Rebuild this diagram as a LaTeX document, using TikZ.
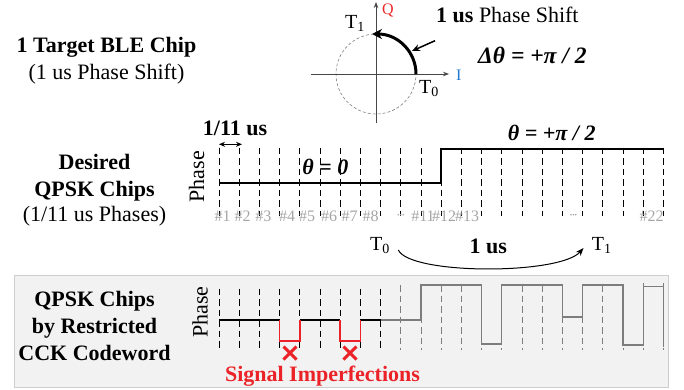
\documentclass[tikz,border=0pt]{standalone}
\usepackage{fontspec}
\setmainfont{Liberation Serif}
\usetikzlibrary{arrows.meta}
\definecolor{numgray}{RGB}{165,165,165}
\definecolor{qred}{RGB}{235,40,40}
\definecolor{iblue}{RGB}{30,120,210}
\definecolor{boxfill}{RGB}{242,242,242}
\definecolor{boxline}{RGB}{205,205,205}
\definecolor{siggray}{RGB}{125,125,125}
\definecolor{imred}{RGB}{235,35,40}
\definecolor{axisgray}{RGB}{70,70,70}
\begin{document}
\begin{tikzpicture}[x=1pt,y=-1pt,
  lab/.style={font=\fontsize{22}{26}\selectfont, inner sep=0pt, anchor=base},
  blab/.style={lab, font=\fontsize{22}{26}\selectfont\bfseries},
  mlab/.style={lab, font=\fontsize{22}{26}\selectfont\bfseries\itshape},
  tlab/.style={font=\fontsize{20}{24}\selectfont, inner sep=0pt, anchor=base west},
  hlab/.style={font=\fontsize{16}{18}\selectfont, text=numgray, inner sep=0pt, anchor=base},
  gridline/.style={dash pattern=on 6.5pt off 4pt, line width=0.8pt},
  axisline/.style={line width=0.9pt, draw=axisgray, -{Stealth[length=6pt,width=4.5pt]}},
  wave/.style={line width=2pt, line join=miter},
  bwave/.style={line width=1.5pt},
  rwave/.style={line width=1.5pt, draw=imred},
  gwave/.style={line width=1.2pt, draw=siggray},
  xmark/.style={line width=3pt, draw=imred},
]
\useasboundingbox (0,0) rectangle (684,389);

% ---------- top section ----------
\node[blab] (title1) at (106.5,52) {1 Target BLE Chip};
\node[lab] (title2) at (106.5,79) {(1 us Phase Shift)};

\coordinate (o) at (376,74);
\coordinate (ileft) at (310.7,74);
\coordinate (iright) at (449,74);
\coordinate (qbot) at (376,123);
\coordinate (qtop) at (376,2);
\draw[dashed, draw=gray, line width=0.6pt, dash pattern=on 3pt off 2pt] (o) circle[radius=40pt];
\draw[axisline] (ileft) -- (iright);
\draw[axisline] (qbot) -- (qtop);
\node[font=\fontsize{16}{18}\selectfont, text=qred, inner sep=0pt, anchor=base west] (qlab) at (382,14) {Q};
\node[font=\fontsize{16}{18}\selectfont, text=iblue, inner sep=0pt, anchor=base west] (ilab) at (456,80) {I};
\node[tlab] (t1top) at (345,28.3) {T\textsubscript{1}};
\node[tlab] (t0top) at (419,93.3) {T\textsubscript{0}};
\coordinate (arcs) at (416,74);
\coordinate (arce) at (372,34);
\draw[line width=3pt, -{Stealth[length=10pt,width=10pt]}] (arcs) .. controls (416,51.9) and (398.1,34) .. (arce);
\coordinate (pa) at (435,40.7);
\coordinate (pb) at (412,51);
\draw[line width=1.5pt, -{Stealth[length=8pt,width=7pt]}] (pa) -- (pb);
\node[lab, anchor=base west] (shift) at (436,22) {\textbf{1 us} Phase Shift};
\node[mlab, font=\fontsize{23.5}{26}\selectfont\bfseries\itshape, anchor=base west] (dtheta) at (478,63.3) {Δθ = +π / 2};

% ---------- middle section ----------
\node[blab] (d1) at (94.5,169) {Desired};
\node[blab] (d2) at (94.5,196) {QPSK Chips};
\node[lab] (d3) at (94.5,221) {(1/11 us Phases)};
\node[lab, rotate=90, anchor=center] (ph1) at (196.7,176.7) {Phase};

\foreach \k in {0,...,22}
  \draw[gridline] ({219+20.2*\k},147.7) -- ({219+20.2*\k},216);

\node[blab] (us11) at (235,135) {1/11 us};
\coordinate (da) at (219,144.3);
\coordinate (db) at (242,144.3);
\draw[line width=1pt, {Stealth[length=6pt,width=5pt]}-{Stealth[length=6pt,width=5pt]}] (da) -- (db);

\coordinate (w0) at (219,183.3);
\coordinate (w1) at (441.2,183.3);
\coordinate (w2) at (441.2,149.3);
\coordinate (w3) at (663.4,149.3);
\draw[wave] (w0) -- (w1) -- (w2) -- (w3);

\node[mlab] (th0) at (325.3,174) {θ = 0};
\node[mlab] (th1) at (551.7,140.7) {θ = +π / 2};

\foreach \p/\t [count=\i] in {222.5/\#1,242.5/\#2,263.3/\#3,287/\#4,307/\#5,329/\#6,349.5/\#7,370.5/\#8,423/\#11,444/\#12,467/\#13,651.5/\#22}
  \node[hlab] (n\i) at (\p,221) {\t};
\foreach \p [count=\i] in {400.8,573.5}
  \node[font=\fontsize{7}{8}\selectfont, text=numgray, inner sep=0pt] (dots\i) at (\p,215.5) {•••};

\node[tlab] (t0mid) at (370,250) {T\textsubscript{0}};
\node[tlab] (t1mid) at (591.7,250) {T\textsubscript{1}};
\node[blab] (us1) at (488.3,253) {1 us};
\coordinate (ca) at (398.3,250);
\coordinate (cb) at (583.5,248);
\draw[line width=1pt, -{Stealth[length=8pt,width=6pt]}] (ca) .. controls (410,275) and (560,275) .. (cb);

% ---------- bottom section ----------
\node[draw=boxline, fill=boxfill, line width=1pt, inner sep=0pt, minimum width=654pt, minimum height=112pt, anchor=north west] (box) at (14,275) {};
\node[blab] (b1) at (94.5,306) {QPSK Chips};
\node[blab] (b2) at (94.5,333) {by Restricted};
\node[blab] (b3) at (94.5,360) {CCK Codeword};
\node[lab, rotate=90, anchor=center] (ph2) at (200,312) {Phase};

\foreach \k in {0,...,8}
  \draw[gridline, line width=0.8pt] ({219+20.2*\k},288.7) -- ({219+20.2*\k},349.7);
\foreach \k in {9,...,22}
  \draw[gridline, draw=siggray, line width=0.8pt] ({219+20.2*\k},285) -- ({219+20.2*\k},349.7);

% black parts
\draw[bwave] (219,320) -- (279.6,320);
\draw[bwave] (299.8,320) -- (340.2,320);
\draw[bwave] (360.4,320) -- (380.6,320);
% red dips
\draw[rwave] (279.6,320) -- (279.6,341) -- (299.8,341) -- (299.8,320);
\draw[rwave] (340.2,320) -- (340.2,341) -- (360.4,341) -- (360.4,320);
% gray signal
\draw[gwave] (380.6,320) -- (421,320) -- (421,285) -- (481.6,285) -- (481.6,344) -- (501.8,344) -- (501.8,285)
  -- (562.4,285) -- (562.4,317) -- (582.6,317) -- (582.6,285) -- (623,285) -- (623,345) -- (643.2,345) -- (643.2,283);
\draw[gwave] (643.2,286.3) -- (663.4,286.3);
\draw[gwave] (663.4,283) -- (663.4,347);

% red crosses
\coordinate (x1) at (290,353);
\coordinate (x2) at (350,353);
\foreach \c in {x1,x2} {
  \draw[xmark] ([shift={(-6.5,-6.5)}]\c) -- ([shift={(6.5,6.5)}]\c);
  \draw[xmark] ([shift={(-6.5,6.5)}]\c) -- ([shift={(6.5,-6.5)}]\c);
}
\node[blab, text=imred] (imp) at (322.5,381) {Signal Imperfections};
\end{tikzpicture}
\end{document}
